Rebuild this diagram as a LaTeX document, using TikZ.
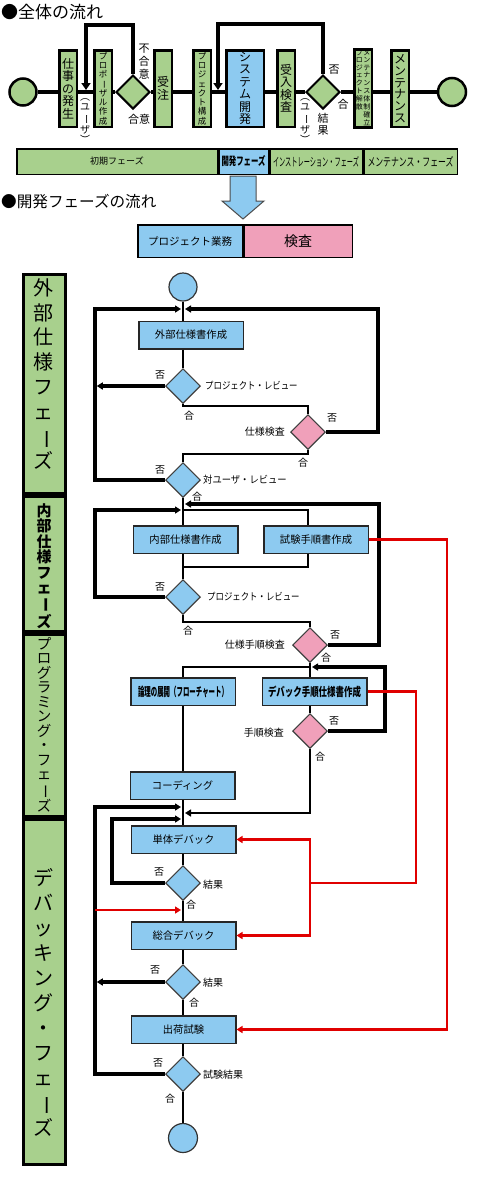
\documentclass[tikz,border=0pt]{standalone}
\usepackage{fontspec}
\usepackage{graphicx}
\setmainfont{Noto Sans CJK JP}
\usetikzlibrary{shapes.geometric,arrows.meta}
\definecolor{gfill}{RGB}{168,208,141}
\definecolor{bfill}{RGB}{141,202,240}
\definecolor{pfill}{RGB}{240,160,186}
\definecolor{rline}{RGB}{224,0,0}
\newcommand\vbar{\rotatebox[origin=c]{-90}{ー}}
\newcommand\fs[2]{\fontsize{#1}{#2}\selectfont}
\begin{document}
\begin{tikzpicture}[x=1pt,y=-1pt,
  topbox/.style={draw, line width=2.5pt, fill=gfill, minimum width=17.5pt, minimum height=76.5pt, inner sep=0pt, align=center},
  tcirc/.style={circle, draw, line width=2.5pt, fill=gfill, minimum size=27pt, inner sep=0pt},
  tdia/.style={diamond, aspect=1, draw, line width=2pt, fill=gfill, minimum width=34pt, minimum height=34pt, inner sep=0pt},
  mainl/.style={line width=4pt},
  toparr/.style={-{Triangle[length=7pt,width=9pt]}},
  pbar/.style={draw, line width=1.5pt, minimum height=25.5pt, inner sep=0pt},
  vtxt/.style={inner sep=0pt, align=center},
  phase/.style={draw, line width=3pt, fill=gfill, minimum width=42pt, inner sep=0pt},
  fbox/.style={draw=black!85, line width=1.5pt, fill=bfill, minimum width=104.5pt, minimum height=27.5pt, inner sep=0pt, font=\fs{10.3}{11}},
  fcirc/.style={circle, draw=black!80, line width=1.2pt, fill=bfill, inner sep=0pt},
  dia/.style={diamond, aspect=1, draw=black!75, line width=1.2pt, fill=bfill, minimum width=34.8pt, minimum height=34.8pt, inner sep=0pt},
  pdia/.style={dia, fill=pfill},
  flow/.style={line width=2pt},
  back/.style={line width=3.5pt},
  redl/.style={draw=rline, line width=2.5pt},
  arr/.style={-{Triangle[length=6pt,width=7pt]}},
  lbl/.style={inner sep=0pt, font=\fs{10}{10}},
]
\useasboundingbox (0,0) rectangle (480,1200);

% ---------- titles ----------
\node[anchor=west, inner sep=0pt, font=\fs{17}{17}] (title1) at (1,12) {●全体の流れ};
\node[anchor=west, inner sep=0pt, font=\fs{15.6}{16}] (title2) at (1,202) {●開発フェーズの流れ};

% ---------- overall flow ----------
\coordinate (mline) at (0,92);
\node[tcirc] (s0) at (23,92) {};
\node[topbox, font=\fs{12}{12.5}] (b1) at (68,88.5) {仕\\事\\の\\発\\生};
\node[topbox, font=\fs{8.5}{9.3}] (b2) at (103,88.5) {プ\\ロ\\ポ\\\vbar\\ザ\\ル\\作\\成};
\node[tdia] (d1) at (133,92) {};
\node[topbox, font=\fs{12}{12.5}] (b3) at (163,88.5) {受\\注};
\node[topbox, font=\fs{8.5}{9.3}] (b4) at (202,88.5) {プ\\ロ\\ジ\\ェ\\ク\\ト\\構\\成};
\node[topbox, fill=bfill, minimum width=37.5pt, font=\fs{12}{12.5}] (b5) at (245,88.5) {シ\\ス\\テ\\ム\\開\\発};
\node[topbox, font=\fs{12}{12.5}] (b6) at (286,88.5) {受\\入\\検\\査};
\node[tdia] (d2) at (323,92) {};
\node[topbox, font=\fs{7}{7.3}] (b7) at (363,88.5) {\begin{tabular}[c]{@{}c@{\hspace{0.5pt}}c@{}}
プ&メ\\ロ&ン\\ジ&テ\\ェ&ナ\\ク&ン\\ト&ス\\解&体\\散&制\\ &確\\ &立\end{tabular}};
\node[topbox, font=\fs{12}{11.8}] (b8) at (400,88.5) {メ\\ン\\テ\\ナ\\ン\\ス};
\node[tcirc, minimum size=28pt] (e0) at (452,92) {};

\foreach \a/\b in {s0/b1,b1/b2,b2/d1,d1/b3,b3/b4,b4/b5,b5/b6,b6/d2,d2/b7,b7/b8,b8/e0}
  \draw[mainl] (\a.east |- mline) -- (\b.west |- mline);

\coordinate (lp1) at (86,25);
\coordinate (lp2) at (218,24);
\draw[mainl, toparr, shorten >=2pt] (d1.north) |- (lp1) -- (lp1 |- mline);
\draw[mainl, toparr, shorten >=2pt] (d2.north) |- (lp2) -- (lp2 |- mline);

\node[vtxt, font=\fs{10}{10.5}] (u1) at (85,121) {︵\\ユ\\\vbar\\ザ\\︶};
\node[vtxt, font=\fs{10}{10.5}] (u2) at (305,121) {︵\\ユ\\\vbar\\ザ\\︶};
\node[vtxt, font=\fs{11}{13}] (n1) at (144,62) {不\\合\\意};
\node[lbl, font=\fs{11}{11}] (n2) at (139,119) {合意};
\node[lbl, font=\fs{11}{11}] (n3) at (334,70) {否};
\node[lbl, font=\fs{11}{11}] (n4) at (343,104) {合};
\node[vtxt, font=\fs{11}{12}] (n5) at (323,124) {結\\果};

% ---------- phase bar ----------
\node[pbar, fill=gfill, minimum width=200.5pt] (p1) at (117,161.5) {\fs{9}{9}初期フェーズ};
\node[pbar, fill=bfill, minimum width=49.5pt] (p2) at (243.5,161.5) {\resizebox{44pt}{10pt}{\bfseries 開発フェーズ}};
\node[pbar, fill=gfill, minimum width=92.5pt] (p3) at (316,161.5) {\resizebox{86pt}{10pt}{インストレーション・フェーズ}};
\node[pbar, fill=gfill, minimum width=93.5pt] (p4) at (410.5,161.5) {\resizebox{86pt}{10pt}{メンテナンス・フェーズ}};

\draw[fill=bfill, draw=black!70, line width=1pt] (230,176) -- (256,176) -- (256,201) -- (264,201) -- (243,219) -- (222,201) -- (230,201) -- cycle;

% legend
\node[pbar, fill=bfill, minimum width=104.5pt, minimum height=32.5pt, font=\fs{10.5}{11}] (l1) at (190,241) {プロジェクト業務};
\node[pbar, fill=pfill, minimum width=108.5pt, minimum height=32.5pt, font=\fs{14}{14}] (l2) at (298,241) {検査};

% ---------- phase column ----------
\node[phase, minimum height=219pt] (ph1) at (44.5,384) {};
\node[phase, minimum height=135pt] (ph2) at (44.5,564) {};
\node[phase, minimum height=182pt] (ph3) at (44.5,725.5) {};
\node[phase, minimum height=345pt] (ph4) at (44.5,992) {};
\node[vtxt, font=\fs{20}{24.7}] (pt1) at (44,374) {外\\部\\仕\\様\\フ\\ェ\\\vbar\\ズ};
\node[vtxt, font=\fs{15}{15.4}\bfseries] (pt2) at (44,566) {内\\部\\仕\\様\\フ\\ェ\\\vbar\\ズ};
\node[vtxt, font=\fs{14.5}{14.5}] (pt3) at (44,725) {プ\\ロ\\グ\\ラ\\ミ\\ン\\グ\\・\\フ\\ェ\\\vbar\\ズ};
\node[vtxt, font=\fs{20}{25}] (pt4) at (44,1002) {デ\\バ\\ッ\\キ\\ン\\グ\\・\\フ\\ェ\\\vbar\\ズ};

% ---------- development flow nodes ----------
\node[fcirc, minimum size=28pt] (st) at (183,287) {};
\node[fbox] (c1) at (191,335) {外部仕様書作成};
\node[dia] (q1) at (183,386) {};
\node[pdia] (k1) at (308,432) {};
\node[dia] (q2) at (183,480) {};
\node[fbox] (c2) at (185.5,539.5) {内部仕様書作成};
\node[fbox] (c3) at (316,539.5) {試験手順書作成};
\node[dia] (q3) at (183,597) {};
\node[pdia] (k2) at (310,645) {};
\node[fbox] (c4) at (183,691.5) {\resizebox{90pt}{10.5pt}{\bfseries 論理の展開（フローチャート）}};
\node[fbox] (c5) at (314.5,691.5) {\resizebox{93pt}{10.5pt}{\bfseries デバック手順仕様書作成}};
\node[pdia] (k3) at (310,731) {};
\node[fbox] (c6) at (182.5,785.5) {コーディング};
\node[fbox] (c7) at (183.5,839.5) {単体デバック};
\node[dia] (q4) at (183,883) {};
\node[fbox] (c8) at (183.5,935.5) {総合デバック};
\node[dia] (q5) at (183,982) {};
\node[fbox] (c9) at (183.5,1029.5) {出荷試験};
\node[dia] (q6) at (183,1074) {};
\node[fcirc, minimum size=29pt] (en) at (183,1138) {};

% labels
\node[lbl] (a1) at (160,375) {否};
\node[lbl] (a2) at (189,416) {合};
\node[lbl, anchor=west] (a3) at (205,386) {\scalebox{0.84}[1]{プロジェクト・レビュー}};
\node[lbl, anchor=east] (a4) at (285,432) {仕様検査};
\node[lbl] (a5) at (332,418) {否};
\node[lbl] (a6) at (303,463) {合};
\node[lbl] (a7) at (160,470) {否};
\node[lbl, anchor=west] (a8) at (203,480) {\scalebox{0.93}[1]{対ユーザ・レビュー}};
\node[lbl] (a9) at (197,497) {合};
\node[lbl] (a10) at (160,587) {否};
\node[lbl, anchor=west] (a11) at (207,597) {\scalebox{0.84}[1]{プロジェクト・レビュー}};
\node[lbl] (a12) at (188,631) {合};
\node[lbl, anchor=east] (a13) at (285,645) {仕様手順検査};
\node[lbl] (a14) at (335,635) {否};
\node[lbl] (a15) at (326,658) {合};
\node[lbl, anchor=east] (a16) at (284,733) {手順検査};
\node[lbl] (a17) at (334,721) {否};
\node[lbl] (a18) at (320,757) {合};
\node[lbl] (a19) at (159,872) {否};
\node[lbl, anchor=west] (a20) at (203,885) {結果};
\node[lbl] (a21) at (191,905) {合};
\node[lbl] (a22) at (155,970) {否};
\node[lbl, anchor=west] (a23) at (203,983) {結果};
\node[lbl] (a24) at (194,1003) {合};
\node[lbl] (a25) at (158,1063) {否};
\node[lbl, anchor=west] (a26) at (203,1075) {試験結果};
\node[lbl] (a27) at (170,1099) {合};

% coordinates
\coordinate (j1) at (183,309);
\coordinate (L1) at (95,309);
\coordinate (R1) at (378,309);
\coordinate (j2) at (183,510);
\coordinate (L2) at (95,510);
\coordinate (j2r) at (183,504);
\coordinate (R2) at (379,504);
\coordinate (j2b) at (308,510);
\coordinate (j3) at (183,567);
\coordinate (j4) at (310,667);
\coordinate (R3) at (385,667);
\coordinate (j5) at (183,813);
\coordinate (j6) at (183,807);
\coordinate (L6) at (95,807);
\coordinate (j7) at (183,819);
\coordinate (L7) at (112,819);
\coordinate (L5) at (95,982);
\coordinate (rj) at (310,883);
\coordinate (rr1) at (447,1029.5);
\coordinate (rr2) at (416,883);
\coordinate (rl) at (95,910);
\coordinate (rm) at (183,910);

% connectors
\draw[flow] (st.south) -- (c1.north -| st);
\draw[flow] (c1.south -| q1) -- (q1.north);
\draw[back, arr, shorten >=1.75pt] (q1.west) -- (L1 |- q1);
\draw[flow] (q1.south) -- ++(0,2) -| (k1.north);
\draw[back, arr, shorten >=2pt] (k1.east) -| (R1) -- (j1);
\draw[flow] (k1.south) -- ++(0,4) -| (q2.north);
\draw[back, arr, shorten >=2pt] (q2.west) -| (L1) -- (j1);

\draw[flow] (q2.south) -- (c2.north -| q2);
\draw[flow] (j2) -- (j2b) -- (j2b |- c3.north);
\draw[flow] (j2b |- c3.south) |- (j3);
\draw[flow] (c2.south -| q3) -- (q3.north);
\draw[back, arr, shorten >=2pt] (q3.west) -| (L2) -- (j2);
\draw[flow] (q3.south) -- ++(0,7) -| (k2.north);
\draw[back, arr, shorten >=2pt] (k2.east) -| (R2) -- (j2r);

\draw[flow] (k2.south) -- (c5.north -| k2);
\draw[flow] (j4) -| (c4.north);
\draw[back, arr, shorten >=2pt] (k3.east) -| (R3) -- (j4);
\draw[flow] (c5.south -| k3) -- (k3.north);
\draw[flow, arr, shorten >=2pt] (k3.south) |- (j5);
\draw[flow] (c4.south) -- (c6.north -| c4);

\draw[flow] (c6.south -| q4) -- (c7.north -| q4);
\draw[back, arr, shorten >=2pt] (q6.west) -| (L6) -- (j6);
\draw[back, arr, shorten >=2pt] (q4.west) -| (L7) -- (j7);
\draw[flow] (c7.south -| q4) -- (q4.north);
\draw[flow] (q4.south) -- (c8.north -| q4);
\draw[flow] (c8.south -| q5) -- (q5.north);
\draw[back, arr, shorten >=1.75pt] (q5.west) -- (L5);
\draw[flow] (q5.south) -- (c9.north -| q5);
\draw[flow] (c9.south -| q6) -- (q6.north);
\draw[flow] (q6.south) -- (en.north);

% red links
\draw[redl, arr] (c3.east) -| (rr1) -- (c9.east);
\draw[redl] (c5.east) -| (rr2) -- (rj);
\draw[redl, arr] (rj) |- (c7.east);
\draw[redl, arr] (rj) |- (c8.east);
\draw[redl, arr, shorten >=2pt] (rl) -- (rm);
\end{tikzpicture}
\end{document}
